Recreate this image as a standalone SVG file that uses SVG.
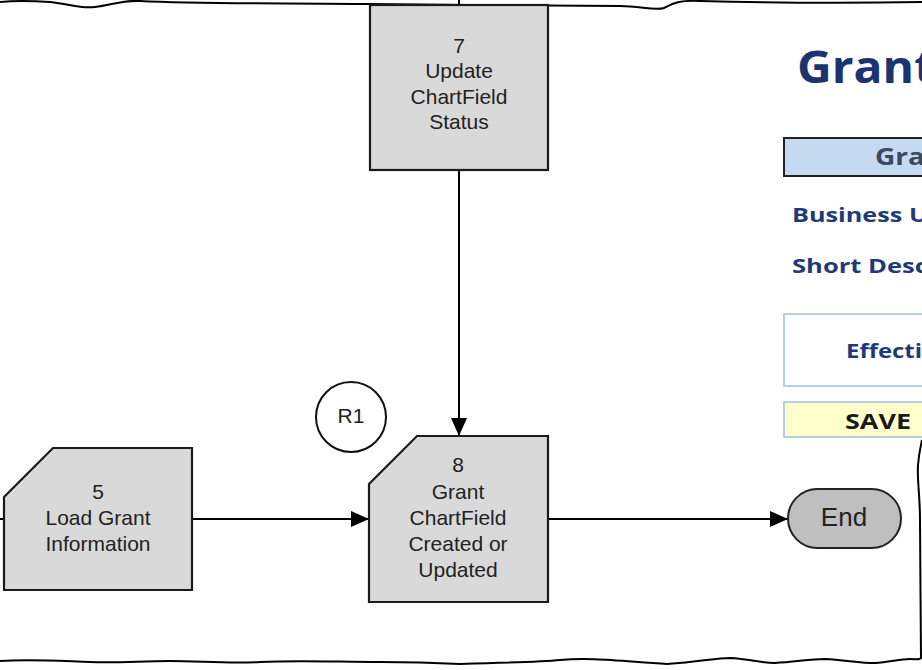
<svg xmlns="http://www.w3.org/2000/svg" width="922" height="670" viewBox="0 0 922 670">
<style>
.node{fill:#d9d9d9;stroke:#1a1a1a;stroke-width:2.2}
.lbl{font-family:"Liberation Sans",Arial,sans-serif;font-size:21px;fill:#222;text-anchor:middle}
.conn{stroke:#000;stroke-width:2;fill:none}
.edge{stroke:#000;stroke-width:2;fill:none}
.ui{font-family:"Open Sans","Noto Sans",sans-serif;font-weight:bold}
</style>
<defs>
<marker id="arr" markerUnits="userSpaceOnUse" markerWidth="18" markerHeight="16" refX="18" refY="8" orient="auto">
<path d="M0,0 L18,8 L0,16 Z" fill="#000"/>
</marker>
</defs>
<rect width="922" height="670" fill="#fff"/>
<g id="border">
<path class="edge" d="M0,2 C20,0 35,1 50,2 C70,4 80,9 95,7 C112,5 122,0 140,1 C200,4 280,3 370,4 C450,5 560,6 620,6 C640,6 655,11 664,8 C672,4 678,0 700,1 C780,3 860,3 922,2"/>
<path class="edge" d="M0,661 C30,659 60,661 90,662 C120,663 140,661 170,661 C200,661 230,664 260,662 C300,660 340,662 380,662 C420,662 440,663 460,664 C500,663 540,662 560,660 C590,657 620,661 667,664 C700,662 715,658 730,658 C750,659 760,663 775,663 C795,662 810,659 825,659 C845,660 860,663 875,663 C890,662 900,659 910,659 C916,659 920,660 921,658 C921,620 920,560 920,520 C920,495 917,480 918,465 C919,452 921,445 922,440"/>
</g>
<g id="connectors">
<path class="conn" d="M459,0 L459,5"/>
<path class="conn" d="M459,170 L459,436" marker-end="url(#arr)"/>
<path class="conn" d="M0,519 L4,519"/>
<path class="conn" d="M192,519 L369,519" marker-end="url(#arr)"/>
<path class="conn" d="M548,519 L788,519" marker-end="url(#arr)"/>
</g>
<g id="node7">
<rect class="node" x="370" y="5" width="178" height="165"/>
<text class="lbl" x="459" y="53">7</text>
<text class="lbl" x="459" y="78">Update</text>
<text class="lbl" x="459" y="104">ChartField</text>
<text class="lbl" x="459" y="129">Status</text>
</g>
<g id="node5">
<path class="node" d="M4,497 L53,448 L192,448 L192,590 L4,590 Z"/>
<text class="lbl" x="98" y="499">5</text>
<text class="lbl" x="98" y="525">Load Grant</text>
<text class="lbl" x="98" y="551">Information</text>
</g>
<g id="node8">
<path class="node" d="M369,484 L417,436 L548,436 L548,602 L369,602 Z"/>
<text class="lbl" x="458" y="472">8</text>
<text class="lbl" x="458" y="499">Grant</text>
<text class="lbl" x="458" y="525">ChartField</text>
<text class="lbl" x="458" y="551">Created or</text>
<text class="lbl" x="458" y="577">Updated</text>
</g>
<g id="r1">
<circle cx="351" cy="417" r="35" fill="#fff" stroke="#111" stroke-width="2"/>
<text class="lbl" x="351" y="423">R1</text>
</g>
<g id="end">
<rect x="788" y="489" width="113" height="59" rx="29.5" fill="#bfbfbf" stroke="#222" stroke-width="2"/>
<text x="844" y="526" font-family="Liberation Sans,Arial,sans-serif" font-size="26" fill="#222" text-anchor="middle">End</text>
</g>
<g id="panel">
<text class="ui" x="797" y="83" font-size="44" fill="#1c3372" textLength="138" lengthAdjust="spacingAndGlyphs">Grant</text>
<rect x="784" y="138" width="150" height="38" fill="#c5d9f1" stroke="#222" stroke-width="2"/>
<text class="ui" x="875" y="165" font-size="23" fill="#3b4a63" textLength="50" lengthAdjust="spacingAndGlyphs">Gra</text>
<text class="ui" x="792" y="222" font-size="20" fill="#1f3a78" textLength="136" lengthAdjust="spacingAndGlyphs">Business U</text>
<text class="ui" x="792" y="273" font-size="20" fill="#1f3a78" textLength="136" lengthAdjust="spacingAndGlyphs">Short Desc</text>
<rect x="784" y="314" width="150" height="72" fill="#fff" stroke="#b8cce4" stroke-width="2"/>
<text class="ui" x="846" y="358" font-size="20" fill="#1f3a78" textLength="76" lengthAdjust="spacingAndGlyphs">Effecti</text>
<rect x="784" y="402" width="150" height="35" fill="#ffffcc" stroke="#b8cce4" stroke-width="2"/>
<text class="ui" x="845" y="429" font-size="21" fill="#1a1a1a" textLength="66" lengthAdjust="spacingAndGlyphs">SAVE</text>
</g>
</svg>
